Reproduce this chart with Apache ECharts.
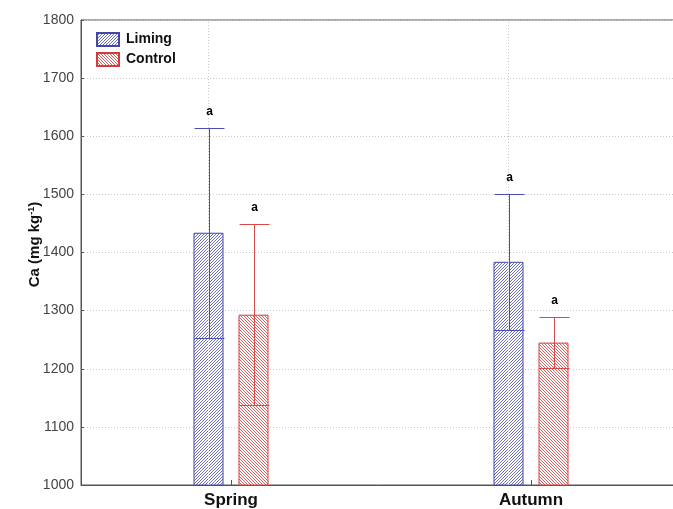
<!DOCTYPE html>
<html>
<head>
<meta charset="utf-8">
<script src="https://cdn.jsdelivr.net/npm/echarts@6/dist/echarts.min.js"></script>
<style>
  html, body { margin: 0; padding: 0; background: #fff; }
  #chart { width: 673px; height: 509px; }
</style>
</head>
<body>
<div id="chart"></div>
<script>
// Calcium content by season and treatment (mean ± error)
const categories = ['Spring', 'Autumn'];
const limingMean = [1434, 1384];
const limingErr = [181, 117];
const controlMean = [1293, 1245];
const controlErr = [156, 44];
const limingSig = ['a', 'a'];
const controlSig = ['a', 'a'];
const yTicks = { min: 1000, max: 1800, interval: 100 };

const FONT = "'Liberation Sans', Arial, sans-serif";
const BLUE = '#4347a8';
const RED = '#d33c3c';
const BAR_W = 30;
const BAR_OFF = 22.5;

// Pixel-exact diagonal hatch tile: dir > 0 draws "/", otherwise "\"
function hatch(color, dir) {
  const s = 3;
  const c = document.createElement('canvas');
  c.width = s; c.height = s;
  const ctx = c.getContext('2d');
  ctx.fillStyle = '#fff';
  ctx.fillRect(0, 0, s, s);
  ctx.fillStyle = color;
  for (let i = 0; i < s; i++) {
    const y = dir > 0 ? s - 1 - i : i;
    ctx.fillRect(i, y, 1, 1);
  }
  return c;
}

function errorSeries(name, means, errs, sig, color, off) {
  return {
    type: 'custom',
    name: name + ' error',
    z: 5,
    data: categories.map((c, i) => [i, means[i], errs[i]]),
    encode: { x: 0, y: 1 },
    renderItem: function (params, api) {
      const idx = api.value(0), mean = api.value(1), err = api.value(2);
      const c = api.coord([idx, mean]);
      const top = Math.round(api.coord([idx, mean + err])[1]) + 0.5;
      const bot = Math.round(api.coord([idx, mean - err])[1]) + 0.5;
      const x = Math.round(c[0] + off) + 0.5;
      const hw = BAR_W / 2;
      const st = { stroke: color, lineWidth: 1 };
      return {
        type: 'group',
        children: [
          { type: 'line', shape: { x1: x, y1: top, x2: x, y2: bot }, style: st },
          { type: 'line', shape: { x1: x - hw, y1: top, x2: x + hw, y2: top }, style: st },
          { type: 'line', shape: { x1: x - hw, y1: bot, x2: x + hw, y2: bot }, style: st },
          {
            type: 'text', x: x, y: top - 17,
            style: {
              text: sig[params.dataIndex], fill: '#000',
              font: 'bold 12px ' + FONT, align: 'center', verticalAlign: 'middle'
            }
          }
        ]
      };
    }
  };
}

const chart = echarts.init(document.getElementById('chart'));
chart.setOption({
  animation: false,
  backgroundColor: '#fff',
  grid: {
    left: 81, top: 20, width: 600, bottom: 24,
    outerBoundsMode: 'none',
    containLabel: false,
    show: true, borderColor: '#555', borderWidth: 1, backgroundColor: 'transparent'
  },
  legend: {
    data: ['Liming', 'Control'],
    orient: 'vertical',
    left: 96, top: 32,
    padding: 0,
    itemGap: 5,
    itemWidth: 22, itemHeight: 13,
    icon: 'rect',
    textStyle: { fontFamily: FONT, fontSize: 14, fontWeight: 'bold', color: '#111', padding: [0, 0, 0, 2] }
  },
  xAxis: {
    type: 'category',
    data: categories,
    axisLine: { lineStyle: { color: '#555' } },
    axisTick: { show: true, inside: true, alignWithLabel: true, length: 5, lineStyle: { color: '#555' } },
    axisLabel: { fontFamily: FONT, fontSize: 17, fontWeight: 'bold', color: '#111', margin: 7 },
    splitLine: { show: false }
  },
  yAxis: {
    type: 'value',
    min: yTicks.min, max: yTicks.max, interval: yTicks.interval,
    name: '{p|}{a|Ca (mg kg}{s|-1}{a|)}',
    nameLocation: 'middle',
    nameGap: 39,
    nameMoveOverlap: false,
    nameRotate: 90,
    nameTextStyle: {
      rich: {
        p: { width: 16 },
        a: { fontFamily: FONT, fontSize: 15, fontWeight: 'bold', color: '#111' },
        s: { fontFamily: FONT, fontSize: 9, fontWeight: 'bold', color: '#111', verticalAlign: 'top', padding: [0, 0, 6, 0] }
      }
    },
    axisLine: { show: true, lineStyle: { color: '#555' } },
    axisTick: { show: true, inside: true, length: 3, lineStyle: { color: '#555' } },
    axisLabel: { fontFamily: FONT, fontSize: 14, color: '#444', margin: 7, formatter: v => String(v) },
    splitLine: { show: true, lineStyle: { color: '#c8c8c8', type: [1, 2] } }
  },
  series: [
    {
      type: 'bar',
      name: 'Liming',
      data: limingMean,
      barWidth: BAR_W,
      barGap: '50%',
      itemStyle: {
        color: { image: hatch('#6a6ec4', 1), repeat: 'repeat' },
        borderColor: BLUE, borderWidth: 1
      },
      markLine: {
        silent: true,
        symbol: 'none',
        label: { show: false },
        lineStyle: { color: '#c8c8c8', type: [1, 2], width: 1 },
        data: categories.map(c => ({ xAxis: c }))
      }
    },
    {
      type: 'bar',
      name: 'Control',
      data: controlMean,
      barWidth: BAR_W,
      itemStyle: {
        color: { image: hatch('#e06060', -1), repeat: 'repeat' },
        borderColor: RED, borderWidth: 1
      }
    },
    errorSeries('Liming', limingMean, limingErr, limingSig, '#4a4eb4', -BAR_OFF),
    errorSeries('Control', controlMean, controlErr, controlSig, '#d64a4a', BAR_OFF)
  ]
});
</script>
</body>
</html>
